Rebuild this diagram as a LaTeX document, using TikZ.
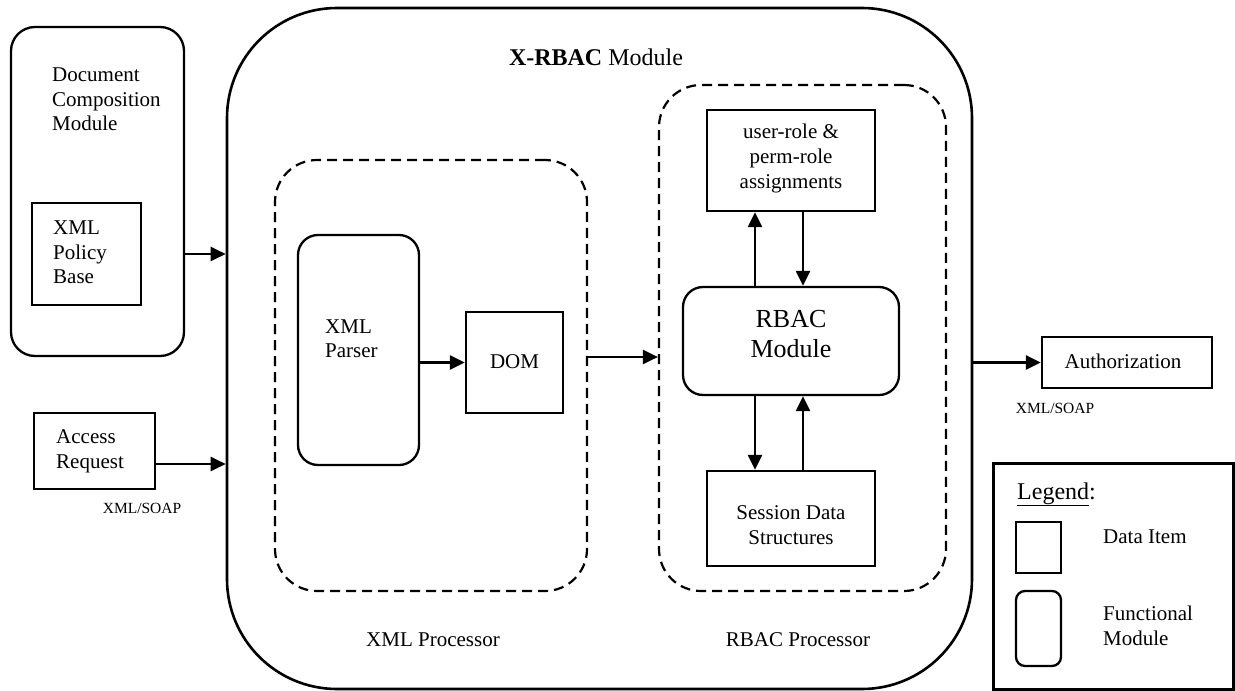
\documentclass[tikz,border=0pt]{standalone}
\usepackage{fontspec}
\setmainfont{Liberation Serif}
\usetikzlibrary{arrows.meta}
\begin{document}
\begin{tikzpicture}[x=1pt,y=-1pt,
  box/.style={draw,line width=2.3pt,rectangle,inner sep=0pt},
  rbox/.style={box,rounded corners=#1},
  dbox/.style={draw,line width=2.2pt,dash pattern=on 10pt off 6pt,rectangle,inner sep=0pt,rounded corners=42pt},
  txt/.style={inner sep=0pt,font=\fontsize{21}{24.5}\selectfont},
  ltxt/.style={txt,align=left,anchor=west},
  ctxt/.style={txt,align=center},
  small/.style={inner sep=0pt,font=\fontsize{15.5}{18}\selectfont,anchor=base},
  arr/.style={line width=2.3pt,-{Triangle[length=15pt,width=14pt]}}]
\useasboundingbox (0,0) rectangle (1235,691);

% outer module
\node[rbox=110pt,line width=2.6pt,minimum width=745pt,minimum height=681pt] (outer) at (599.5,348.5) {};
\node[inner sep=0pt,anchor=base,font=\fontsize{24}{28}\selectfont] (title) at (596,65) {\textbf{X-RBAC} Module};

% document composition module
\node[rbox=24pt,minimum width=173pt,minimum height=329pt] (dcm) at (97.5,191.5) {};
\node[ltxt] (dcmt) at (52,99.4) {Document\\Composition\\Module};
\node[box,minimum width=109pt,minimum height=102pt] (pol) at (86.5,254) {};
\node[ltxt] (polt) at (53,252.5) {XML\\Policy\\Base};

% access request
\node[box,minimum width=121pt,minimum height=76pt] (acc) at (94.5,451) {};
\node[ltxt] (acct) at (56,451.3) {Access\\Request};
\node[small] (soap1) at (142,513) {XML/SOAP};

% XML processor
\node[dbox,minimum width=312pt,minimum height=431pt] (xmlp) at (431,375.5) {};
\node[rbox=20pt,minimum width=121pt,minimum height=230pt] (parser) at (358.5,350) {};
\node[ltxt] (parsert) at (325,338.5) {XML\\Parser};
\node[box,minimum width=97pt,minimum height=101pt] (dom) at (514.5,362.5) {};
\node[txt,anchor=base] (domt) at (514.5,368) {DOM};
\node[txt,anchor=base] (xmlpt) at (433,646) {XML Processor};

% RBAC processor
\node[dbox,minimum width=287pt,minimum height=506pt] (rbacp) at (802.5,338) {};
\node[box,minimum width=168pt,minimum height=101pt] (ura) at (791,160.5) {};
\node[ctxt,font=\fontsize{21}{25}\selectfont] (urat) at (791,158.2) {user-role \&\\perm-role\\assignments};
\node[rbox=20pt,minimum width=216pt,minimum height=108pt] (rbac) at (791,341) {};
\node[ctxt,font=\fontsize{26}{30}\selectfont] (rbact) at (791,334.4) {RBAC\\Module};
\node[box,minimum width=168pt,minimum height=95pt] (sess) at (791,518.5) {};
\node[ctxt,font=\fontsize{21}{25}\selectfont] (sesst) at (791,525.4) {Session Data\\Structures};
\node[txt,anchor=base] (rbacpt) at (798,646) {RBAC Processor};

% authorization
\node[box,minimum width=170pt,minimum height=51pt] (auth) at (1127,362.5) {};
\node[txt,anchor=base] (autht) at (1123,368) {Authorization};
\node[small] (soap2) at (1055,413) {XML/SOAP};

% legend
\node[box,line width=3pt,minimum width=240pt,minimum height=226pt] (leg) at (1113,576) {};
\node[inner sep=0pt,anchor=base west,font=\fontsize{24}{28}\selectfont] (legt) at (1017,499) {\underline{Legend}:};
\node[box,minimum width=45pt,minimum height=51pt] (legsq) at (1038.5,547.5) {};
\node[txt,anchor=base west] (legsqt) at (1103,543) {Data Item};
\node[rbox=9pt,minimum width=45pt,minimum height=75pt] (legrd) at (1038.5,628.5) {};
\node[ltxt] (legrdt) at (1103,625.9) {Functional\\Module};

% connectors
\draw[arr] (pol.center -| dcm.east) -- (pol.center -| outer.west);
\draw[arr] ([yshift=-13pt]acc.east) -- ([yshift=-13pt]acc.east -| outer.west);
\draw[arr] (dom.west -| parser.east) -- (dom.west);
\draw[arr] ([yshift=18.5pt]xmlp.east) -- ([yshift=18.5pt]xmlp.east -| rbacp.west);
\draw[arr] ([xshift=-36pt]rbac.north) -- ([xshift=-36pt]ura.south);
\draw[arr] ([xshift=12pt]ura.south) -- ([xshift=12pt]rbac.north);
\draw[arr] ([xshift=-36pt]rbac.south) -- ([xshift=-36pt]sess.north);
\draw[arr] ([xshift=12pt]sess.north) -- ([xshift=12pt]rbac.south);
\draw[arr] (auth.west -| outer.east) -- (auth.west);
\end{tikzpicture}
\end{document}
